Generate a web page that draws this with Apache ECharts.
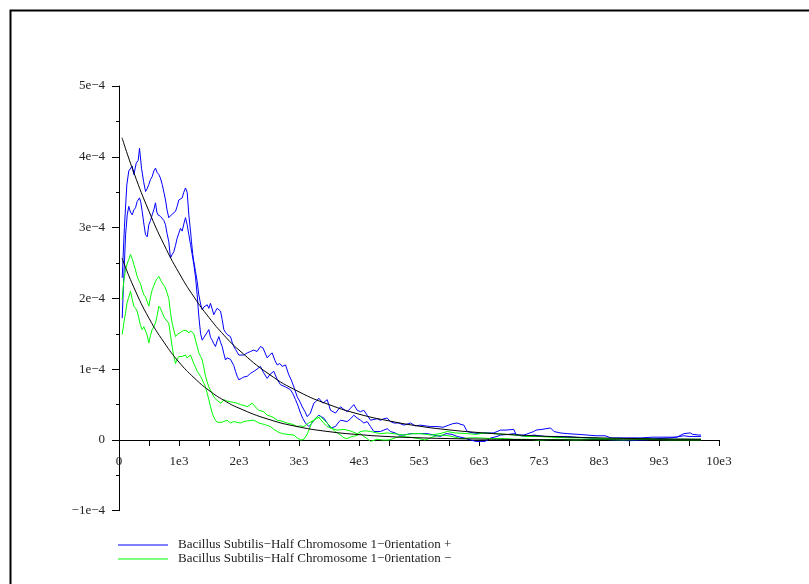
<!DOCTYPE html>
<html>
<head>
<meta charset="utf-8">
<script src="https://cdn.jsdelivr.net/npm/echarts@6/dist/echarts.min.js"></script>
<style>
html,body{margin:0;padding:0;background:#fff;}
#chart{width:809px;height:584px;}
</style>
</head>
<body>
<div id="chart"></div>
<script>
// y values in units of 1e-4
const plusUpper = [[53,2.29],[90,3.0],[130,3.6],[163,3.80],[190,3.78],[220,3.87],[248,3.75],[287,3.91],[320,3.95],[342,4.12],[375,3.84],[410,3.65],[442,3.51],[470,3.55],[497,3.61],[525,3.68],[553,3.72],[580,3.80],[608,3.84],[635,3.78],[663,3.75],[690,3.70],[720,3.61],[748,3.50],[775,3.39],[800,3.25],[830,3.14],[858,3.12],[886,3.19],[914,3.20],[942,3.23],[969,3.30],[997,3.39],[1025,3.38],[1053,3.42],[1080,3.50],[1108,3.56],[1136,3.50],[1164,3.18],[1192,2.95],[1208,2.80],[1230,2.62],[1247,2.52],[1275,2.38],[1303,2.24],[1330,2.05],[1360,1.92],[1387,1.84],[1415,1.88],[1442,1.90],[1470,1.91],[1497,1.86],[1525,1.93],[1553,1.85],[1580,1.77],[1608,1.82],[1636,1.86],[1664,1.84],[1692,1.82],[1720,1.70],[1747,1.56],[1775,1.52],[1803,1.49],[1830,1.50],[1858,1.46],[1886,1.38],[1914,1.32],[1942,1.28],[1970,1.24],[1997,1.20],[2030,1.18],[2080,1.20],[2137,1.23],[2190,1.25],[2247,1.27],[2300,1.25],[2358,1.32],[2400,1.30],[2470,1.16],[2510,1.20],[2553,1.23],[2600,1.12],[2637,1.06],[2680,1.08],[2720,1.04],[2775,1.06],[2830,0.92],[2870,0.85],[2914,0.75],[2970,0.61],[3010,0.55],[3053,0.47],[3100,0.40],[3137,0.33],[3190,0.38],[3247,0.52],[3290,0.55],[3330,0.59],[3400,0.52],[3470,0.57],[3525,0.42],[3608,0.38],[3692,0.47],[3750,0.43],[3803,0.40],[3860,0.45],[3914,0.50],[3970,0.42],[4025,0.40],[4080,0.42],[4136,0.35],[4192,0.28],[4303,0.30],[4358,0.28],[4414,0.30],[4470,0.31],[4525,0.26],[4580,0.24],[4664,0.24],[4747,0.21],[4858,0.24],[4940,0.20],[5025,0.21],[5100,0.20],[5192,0.19],[5300,0.19],[5400,0.18],[5497,0.21],[5560,0.23],[5636,0.24],[5700,0.22],[5747,0.21],[5803,0.12],[5900,0.10],[6000,0.09],[6100,0.10],[6247,0.10],[6358,0.14],[6450,0.14],[6580,0.15],[6620,0.07],[6750,0.07],[6914,0.12],[6950,0.14],[7050,0.15],[7192,0.17],[7250,0.12],[7350,0.10],[7470,0.09],[7650,0.08],[7800,0.07],[7950,0.06],[8100,0.06],[8200,0.03],[8475,0.03],[8700,0.03],[8900,0.04],[9150,0.04],[9300,0.04],[9414,0.09],[9520,0.10],[9560,0.08],[9664,0.07],[9700,0.07]];

const plusLower = [[53,1.72],[80,2.3],[110,2.9],[137,3.18],[163,3.30],[190,3.22],[220,3.18],[248,3.25],[275,3.28],[303,3.37],[342,3.42],[365,3.35],[386,3.23],[415,3.05],[442,2.90],[470,2.87],[497,3.04],[525,3.10],[553,3.18],[580,3.25],[608,3.35],[630,3.22],[650,3.18],[690,3.16],[720,3.14],[748,3.10],[775,3.04],[800,2.92],[830,2.80],[858,2.57],[886,2.62],[914,2.66],[942,2.75],[969,2.85],[997,2.92],[1025,2.99],[1053,2.95],[1080,3.05],[1108,3.14],[1136,3.04],[1164,2.90],[1192,2.76],[1220,2.62],[1247,2.48],[1275,2.30],[1303,2.05],[1330,1.75],[1360,1.50],[1387,1.41],[1415,1.45],[1442,1.46],[1470,1.52],[1497,1.56],[1525,1.45],[1553,1.41],[1580,1.36],[1608,1.32],[1636,1.40],[1664,1.46],[1692,1.38],[1720,1.32],[1747,1.22],[1775,1.13],[1803,1.16],[1830,1.18],[1858,1.14],[1886,1.13],[1914,1.05],[1942,0.97],[1970,0.90],[1997,0.85],[2040,0.87],[2080,0.89],[2137,0.90],[2190,0.94],[2247,0.97],[2300,1.00],[2358,1.04],[2410,0.95],[2470,0.87],[2520,0.93],[2580,0.97],[2640,0.85],[2692,0.78],[2775,0.75],[2858,0.71],[2900,0.65],[2942,0.57],[2985,0.48],[3025,0.38],[3065,0.30],[3108,0.24],[3164,0.19],[3200,0.22],[3247,0.28],[3290,0.32],[3330,0.35],[3370,0.33],[3414,0.31],[3470,0.24],[3525,0.17],[3608,0.19],[3650,0.24],[3692,0.28],[3750,0.27],[3803,0.26],[3860,0.30],[3914,0.35],[3970,0.31],[4025,0.28],[4080,0.24],[4136,0.26],[4192,0.19],[4247,0.12],[4300,0.12],[4358,0.12],[4414,0.14],[4470,0.16],[4525,0.12],[4600,0.10],[4664,0.07],[4747,0.07],[4858,0.09],[4950,0.09],[5050,0.09],[5136,0.09],[5250,0.07],[5358,0.05],[5450,0.09],[5550,0.08],[5636,0.05],[5750,0.03],[5858,0.0],[5950,-0.02],[6100,-0.02],[6200,0.03],[6300,0.05],[6358,0.07],[6500,0.08],[6580,0.09],[6700,0.06],[6800,0.05],[6914,0.07],[7100,0.05],[7300,0.05],[7470,0.05],[7600,0.04],[7800,0.03],[8000,0.02],[8200,0.0],[8500,-0.01],[8800,0.0],[9000,0.02],[9200,0.03],[9414,0.06],[9500,0.05],[9700,0.05]];

const minusUpper = [[53,1.98],[80,2.25],[108,2.40],[140,2.50],[164,2.55],[192,2.62],[220,2.56],[247,2.48],[275,2.40],[303,2.31],[330,2.25],[358,2.21],[386,2.12],[414,2.05],[442,2.02],[470,2.00],[497,1.89],[525,2.02],[553,2.12],[580,2.18],[608,2.24],[636,2.28],[664,2.31],[690,2.30],[705,2.24],[733,2.20],[761,2.17],[800,2.08],[830,2.00],[858,1.80],[886,1.65],[914,1.55],[942,1.46],[969,1.49],[997,1.51],[1025,1.52],[1053,1.53],[1080,1.55],[1108,1.56],[1136,1.54],[1164,1.51],[1192,1.54],[1220,1.56],[1247,1.50],[1275,1.41],[1303,1.32],[1330,1.23],[1360,1.18],[1387,1.13],[1415,1.02],[1442,0.90],[1470,0.82],[1497,0.75],[1540,0.68],[1580,0.61],[1620,0.57],[1664,0.54],[1700,0.52],[1747,0.57],[1800,0.55],[1858,0.54],[1914,0.53],[1970,0.52],[2025,0.50],[2080,0.49],[2137,0.47],[2220,0.52],[2247,0.50],[2290,0.45],[2330,0.42],[2414,0.40],[2470,0.35],[2550,0.33],[2637,0.28],[2700,0.27],[2803,0.24],[2900,0.22],[2970,0.19],[3025,0.20],[3080,0.19],[3164,0.24],[3247,0.28],[3303,0.33],[3340,0.31],[3400,0.25],[3470,0.19],[3560,0.16],[3636,0.14],[3750,0.15],[3850,0.13],[3970,0.09],[4025,0.12],[4100,0.13],[4192,0.12],[4300,0.10],[4358,0.09],[4470,0.10],[4580,0.09],[4747,0.07],[4900,0.09],[5025,0.09],[5200,0.07],[5350,0.09],[5470,0.12],[5600,0.10],[5800,0.09],[5950,0.08],[6100,0.10],[6247,0.09],[6450,0.08],[6600,0.07],[6800,0.05],[7000,0.05],[7200,0.04],[7500,0.03],[7800,0.03],[8100,0.02],[8400,0.02],[8700,0.02],[9000,0.01],[9300,0.01],[9700,0.01]];

const minusLower = [[53,1.49],[80,1.65],[108,1.79],[136,1.95],[164,2.02],[192,2.10],[220,1.99],[247,1.89],[275,1.86],[303,1.82],[330,1.72],[358,1.62],[386,1.56],[414,1.60],[442,1.58],[470,1.48],[497,1.37],[525,1.48],[553,1.56],[580,1.60],[608,1.65],[636,1.76],[664,1.89],[690,1.86],[720,1.80],[748,1.74],[775,1.72],[800,1.68],[830,1.65],[858,1.48],[886,1.32],[914,1.18],[942,1.08],[969,1.14],[997,1.18],[1025,1.17],[1053,1.18],[1080,1.19],[1108,1.20],[1136,1.16],[1164,1.16],[1192,1.20],[1220,1.18],[1247,1.08],[1275,1.03],[1303,0.97],[1330,0.97],[1360,0.90],[1387,0.85],[1415,0.80],[1442,0.75],[1470,0.66],[1497,0.57],[1525,0.47],[1553,0.38],[1580,0.32],[1608,0.28],[1636,0.25],[1664,0.24],[1700,0.25],[1747,0.26],[1800,0.28],[1858,0.24],[1914,0.26],[1970,0.25],[2025,0.24],[2080,0.26],[2137,0.27],[2247,0.28],[2330,0.24],[2420,0.22],[2525,0.19],[2580,0.15],[2637,0.12],[2720,0.09],[2800,0.08],[2914,0.07],[2970,0.03],[3025,0.0],[3080,0.01],[3130,0.07],[3164,0.14],[3220,0.26],[3290,0.30],[3358,0.33],[3420,0.28],[3470,0.24],[3525,0.19],[3600,0.12],[3692,0.07],[3750,0.03],[3803,0.02],[3880,0.05],[3950,0.06],[4025,0.09],[4080,0.05],[4136,0.02],[4192,-0.02],[4300,0.01],[4400,0.0],[4500,0.0],[4600,0.03],[4700,0.05],[4850,0.04],[5000,0.02],[5100,0.0],[5250,0.05],[5400,0.07],[5550,0.05],[5700,0.02],[5850,0.03],[6000,0.03],[6200,0.02],[6400,0.02],[6600,0.01],[6800,0.01],[7000,0.0],[7300,0.01],[7600,0.0],[8000,0.01],[8400,0.0],[8800,0.01],[9200,0.0],[9700,0.0]];

const fitPlus = [[50,4.27],[250,3.77],[500,3.23],[750,2.76],[1000,2.36],[1250,2.02],[1500,1.73],[1750,1.48],[2000,1.27],[2500,0.93],[3000,0.68],[3500,0.50],[4000,0.365],[4500,0.27],[5000,0.196],[5500,0.143],[6000,0.105],[6500,0.077],[7000,0.056],[7500,0.041],[8000,0.030],[8500,0.022],[9000,0.016],[9500,0.012],[9700,0.011]];
const fitMinus = [[50,2.57],[250,2.15],[500,1.72],[750,1.38],[1000,1.10],[1250,0.88],[1500,0.70],[1750,0.56],[2000,0.45],[2500,0.29],[3000,0.185],[3500,0.118],[4000,0.076],[4500,0.048],[5000,0.031],[5500,0.020],[6000,0.013],[6500,0.008],[7000,0.005],[7500,0.003],[8000,0.002],[9000,0.001],[9700,0.0005]];

const legendNames = ['Bacillus Subtilis\u2212Half Chromosome 1\u22120rientation +', 'Bacillus Subtilis\u2212Half Chromosome 1\u22120rientation \u2212'];
const xTickLabels = ['0','1e3','2e3','3e3','4e3','5e3','6e3','7e3','8e3','9e3','10e3'];
const yTickLabels = {'-1':'\u22121e\u22124','0':'0','1':'1e\u22124','2':'2e\u22124','3':'3e\u22124','4':'4e\u22124','5':'5e\u22124'};

const FONT = '"Liberation Serif", "DejaVu Serif", serif';
const chart = echarts.init(document.getElementById('chart'), null, {renderer: 'canvas'});

function line(name, data, color, smooth) {
  return {
    name: name, type: 'line', data: data, smooth: smooth || false,
    xAxisIndex: 0, yAxisIndex: 0, clip: false,
    showSymbol: false, symbol: 'none', animation: false,
    lineStyle: {color: color, width: 1}, itemStyle: {color: color},
    emphasis: {disabled: true}
  };
}

const yLabel = {
  color: '#222', fontFamily: FONT, fontSize: 13, margin: 14
};

chart.setOption({
  animation: false,
  backgroundColor: '#fff',
  graphic: [{
    type: 'rect', left: 8, top: 8, z: -10,
    shape: {x: 0, y: 0, width: 812, height: 600},
    style: {fill: 'none', stroke: '#000', lineWidth: 2}
  }],
  grid: [
    {left: 119, width: 600, top: 86, height: 354},
    {left: 119, width: 600, top: 440, height: 70.7}
  ],
  xAxis: [{
    gridIndex: 0, type: 'value', min: 0, max: 10000, interval: 1000,
    axisLine: {onZero: false, lineStyle: {color: '#000', width: 1}},
    axisTick: {show: true, length: 6, lineStyle: {color: '#000'}},
    minorTick: {show: true, splitNumber: 2, length: 6, lineStyle: {color: '#000'}},
    splitLine: {show: false},
    axisLabel: {
      margin: 15, color: '#222', fontFamily: FONT, fontSize: 13,
      formatter: function (v) { return xTickLabels[Math.round(v / 1000)]; }
    }
  }, {
    gridIndex: 1, type: 'value', min: 0, max: 10000, show: false
  }],
  yAxis: [{
    gridIndex: 0, type: 'value', min: 0, max: 5, interval: 1,
    axisLine: {show: true, onZero: false, lineStyle: {color: '#000', width: 1}},
    axisTick: {show: true, length: 7, lineStyle: {color: '#000'}},
    minorTick: {show: true, splitNumber: 2, length: 3, lineStyle: {color: '#000'}},
    splitLine: {show: false},
    axisLabel: Object.assign({}, yLabel, {
      formatter: function (v) { return yTickLabels[String(Math.round(v))]; }
    })
  }, {
    gridIndex: 1, type: 'value', min: -1, max: 0, interval: 1,
    axisLine: {show: true, onZero: false, lineStyle: {color: '#000', width: 1}},
    axisTick: {show: true, length: 7, lineStyle: {color: '#000'}},
    minorTick: {show: true, splitNumber: 2, length: 3, lineStyle: {color: '#000'}},
    splitLine: {show: false},
    axisLabel: Object.assign({}, yLabel, {
      formatter: function (v) { return Math.round(v) === -1 ? yTickLabels['-1'] : ''; }
    })
  }],
  legend: {
    data: legendNames, orient: 'vertical', left: 118, top: 538, padding: 0,
    icon: 'rect', itemWidth: 50, itemHeight: 1, itemGap: 0,
    textStyle: {fontFamily: FONT, fontSize: 13, color: '#222', lineHeight: 14, padding: [0, 0, 0, 5]},
    selectedMode: false
  },
  series: [
    line(legendNames[0], plusUpper, '#0000ff'),
    line(legendNames[0], plusLower, '#0000ff'),
    line(legendNames[1], minusUpper, '#00ff00'),
    line(legendNames[1], minusLower, '#00ff00'),
    line('fit +', fitPlus, '#000000', true),
    line('fit \u2212', fitMinus, '#000000', true)
  ]
});
</script>
</body>
</html>
